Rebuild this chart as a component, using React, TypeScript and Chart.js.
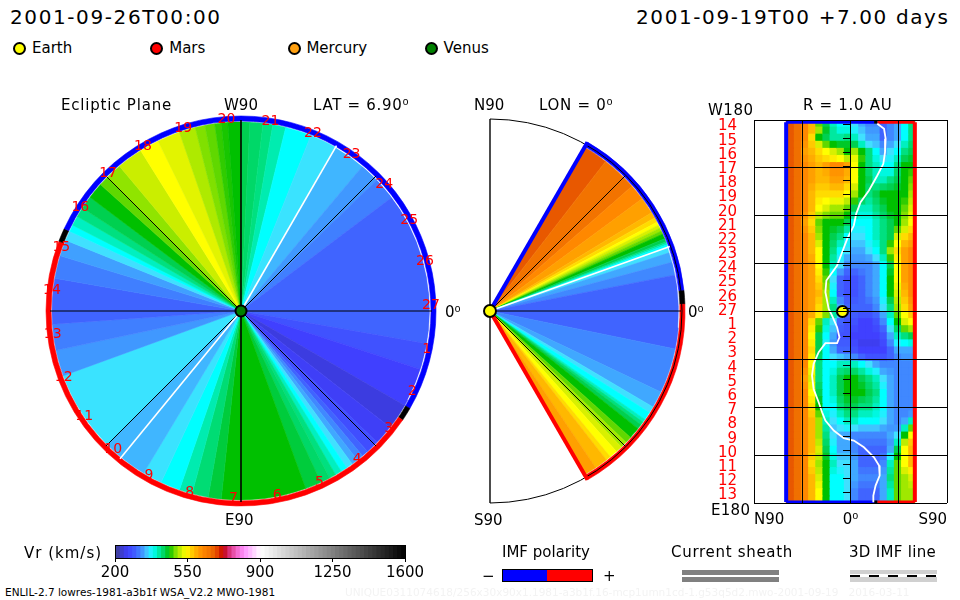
import React, { useEffect, useRef } from "react";
import { Chart, registerables } from "chart.js";

Chart.register(...registerables);

const FONT = '"DejaVu Sans", sans-serif';

// Colour table of the Vr scale: [km/s, colour]
const scaleSpeeds = [200, 240, 260, 300, 320, 340, 360, 380, 400, 420, 440, 460, 480, 500, 520, 540, 560, 580, 600, 620, 660, 680, 700, 720, 740, 780, 820, 860, 900, 1600];
const scaleColors = ["#404090", "#3c3ce0", "#4040ff", "#4064ff", "#4088ff", "#40a8ff", "#40e0ff", "#00ffff", "#00f0c0", "#00e080", "#00d050", "#00c000", "#60d800", "#a0e800", "#d8f000", "#ffff00", "#ffdc00", "#ffb800", "#ffa000", "#ff8800", "#f07000", "#e85800", "#e03000", "#c00000", "#d02060", "#f060c0", "#ff90ff", "#ffc8ff", "#ffffff", "#000000"];
const colorbarTicks = [200, 550, 900, 1250, 1600];

// Ecliptic plane: sector edges, clockwise from W90 (deg), and Vr in each sector
const eclipticEdges = [0, 2.7, 6.7, 9.7, 13.7, 21.7, 30, 40, 46, 53, 100, 108, 120, 128, 134, 138, 140, 142, 144, 146, 148, 150, 152, 155, 160, 186, 190, 195, 199, 205, 211, 225, 250, 258, 266, 280, 287, 292, 295, 297, 300, 303, 307, 312, 315, 320, 328, 334, 341, 346, 349, 352, 354, 356, 360];
const eclipticVr = [440, 430, 420, 405, 380, 362, 345, 330, 315, 300, 280, 260, 240, 255, 275, 300, 320, 340, 360, 380, 400, 420, 430, 445, 460, 445, 425, 405, 380, 362, 345, 362, 330, 315, 300, 315, 335, 360, 380, 400, 420, 440, 460, 480, 495, 515, 540, 525, 505, 490, 480, 470, 465, 460];
const eclipticPolaritySpans = [120, 4, 167, 4, 65];
const eclipticPolarity = ["minus", "zero", "plus", "zero", "minus"];
const eclipticSheathSpans = [30, 88, 242];
const eclipticGridDeg = [0, 45, 90, 135, 180, 225, 270, 315];
const eclipticSheathDeg = [30, 219.3];
const carringtonDays = [14, 15, 16, 17, 18, 19, 20, 21, 22, 23, 24, 25, 26, 27, 1, 2, 3, 4, 5, 6, 7, 8, 9, 10, 11, 12, 13];

// Meridional plane: sector edges, clockwise from N90 (deg), and Vr (null = outside the model)
const meridianEdges = [0, 30, 37.7, 48.7, 53.6, 58.7, 60.5, 62, 63, 64, 65, 66, 67.5, 68.5, 69, 69.5, 70.3, 72, 75, 79, 101.6, 115.4, 120.5, 122.5, 125, 126, 127, 128.5, 132, 134, 136, 138, 140.5, 142, 146, 150, 360];
const meridianVr = [null, 680, 655, 620, 600, 580, 560, 540, 520, 500, 480, 460, 440, 420, 400, 380, 360, 340, 320, 300, 320, 340, 360, 380, 400, 420, 440, 460, 480, 500, 520, 540, 560, 580, 600, null];
const meridianPolaritySpans = [30, 54, 4, 62, 210];
const meridianPolarity = ["none", "minus", "zero", "plus", "none"];
const meridianSheathSpans = [70, 25, 265];
const meridianGridDeg = [45, 90, 135];
const meridianSheathDeg = [70.3];

// R = 1 AU map: colatitude column edges (deg) and Vr, two rows per Carrington day, W180 at the top
const colatEdges = [30, 36.67, 43.33, 50, 56.67, 63.33, 70, 76.67, 83.33, 90, 96.67, 103.33, 110, 116.67, 123.33, 130, 136.67, 143.33, 150];
const vrAt1AU = [
  [680, 660, 620, 580, 480, 440, 400, 380, 380, 360, 340, 320, 320, 300, 320, 340, 380, 420],
  [680, 660, 620, 580, 500, 450, 410, 390, 390, 370, 350, 330, 330, 300, 320, 340, 380, 420],
  [680, 660, 620, 560, 460, 440, 410, 410, 420, 400, 360, 340, 340, 300, 320, 340, 380, 420],
  [680, 660, 610, 570, 520, 480, 460, 450, 450, 440, 400, 360, 350, 320, 340, 360, 400, 430],
  [680, 660, 600, 580, 560, 540, 520, 500, 460, 500, 460, 420, 380, 340, 360, 380, 420, 440],
  [680, 660, 610, 590, 570, 560, 550, 540, 510, 530, 470, 420, 390, 360, 370, 400, 440, 450],
  [680, 660, 620, 600, 580, 600, 620, 620, 600, 540, 460, 420, 400, 380, 380, 420, 460, 460],
  [680, 660, 620, 600, 580, 590, 610, 610, 590, 540, 460, 430, 400, 390, 390, 430, 460, 470],
  [680, 660, 620, 600, 580, 580, 600, 600, 580, 540, 460, 440, 400, 400, 420, 440, 460, 480],
  [680, 660, 620, 590, 570, 570, 580, 580, 560, 520, 460, 430, 420, 430, 440, 450, 460, 490],
  [680, 660, 620, 580, 560, 560, 560, 560, 540, 500, 460, 420, 440, 460, 460, 460, 460, 500],
  [680, 660, 620, 580, 550, 540, 530, 530, 510, 470, 430, 410, 430, 450, 460, 460, 470, 510],
  [680, 660, 620, 580, 540, 520, 500, 500, 480, 440, 400, 400, 420, 440, 460, 460, 480, 520],
  [680, 660, 610, 570, 510, 490, 480, 480, 460, 410, 390, 390, 410, 430, 450, 460, 490, 530],
  [680, 660, 600, 560, 480, 460, 460, 460, 440, 380, 380, 380, 400, 420, 440, 460, 500, 540],
  [680, 660, 610, 570, 490, 460, 450, 440, 410, 370, 370, 380, 400, 420, 440, 480, 520, 560],
  [680, 660, 620, 580, 500, 460, 440, 420, 380, 360, 360, 380, 400, 420, 440, 520, 560, 580],
  [680, 660, 620, 580, 520, 460, 430, 400, 370, 350, 350, 370, 390, 420, 470, 540, 580, 600],
  [680, 660, 620, 580, 540, 460, 420, 380, 360, 340, 340, 360, 380, 420, 500, 560, 600, 620],
  [680, 660, 620, 590, 540, 460, 410, 370, 340, 330, 330, 340, 360, 400, 470, 550, 600, 620],
  [680, 660, 620, 600, 540, 460, 400, 360, 320, 320, 320, 320, 340, 380, 440, 540, 600, 620],
  [680, 660, 620, 600, 550, 470, 380, 330, 300, 300, 310, 320, 340, 380, 450, 540, 600, 620],
  [680, 660, 620, 600, 560, 480, 360, 300, 280, 280, 300, 320, 340, 380, 460, 540, 600, 620],
  [680, 660, 620, 600, 570, 490, 370, 300, 280, 280, 300, 320, 340, 380, 460, 530, 590, 620],
  [680, 660, 620, 600, 580, 500, 380, 300, 280, 280, 300, 320, 340, 380, 460, 520, 580, 620],
  [680, 660, 620, 600, 570, 500, 400, 320, 290, 290, 300, 310, 330, 370, 440, 510, 570, 610],
  [680, 660, 620, 600, 560, 500, 420, 340, 300, 300, 300, 300, 320, 360, 420, 500, 560, 600],
  [680, 660, 620, 590, 550, 490, 410, 350, 290, 290, 280, 280, 300, 340, 400, 480, 540, 570],
  [680, 660, 620, 560, 480, 400, 360, 300, 280, 280, 260, 260, 280, 320, 380, 460, 520, 540],
  [680, 660, 620, 550, 470, 390, 350, 290, 280, 270, 260, 260, 270, 300, 360, 430, 480, 500],
  [680, 660, 620, 540, 440, 380, 340, 280, 280, 260, 260, 260, 260, 280, 340, 400, 420, 440],
  [680, 660, 620, 550, 440, 370, 330, 290, 290, 270, 250, 250, 250, 270, 320, 370, 380, 390],
  [680, 660, 620, 560, 440, 380, 340, 300, 300, 280, 260, 260, 260, 260, 300, 340, 340, 340],
  [680, 660, 620, 550, 430, 380, 360, 350, 340, 320, 300, 280, 280, 280, 300, 320, 330, 330],
  [680, 660, 620, 540, 420, 380, 380, 400, 400, 400, 380, 360, 340, 320, 320, 320, 320, 320],
  [680, 660, 610, 530, 420, 380, 390, 420, 430, 430, 410, 390, 370, 340, 330, 320, 320, 320],
  [680, 660, 600, 520, 420, 380, 400, 440, 460, 460, 440, 420, 400, 360, 340, 320, 320, 320],
  [680, 660, 610, 530, 430, 380, 400, 440, 460, 460, 450, 430, 410, 370, 340, 320, 320, 320],
  [680, 660, 620, 540, 440, 380, 400, 440, 460, 460, 460, 440, 420, 380, 340, 320, 320, 320],
  [680, 660, 620, 550, 450, 380, 390, 430, 450, 450, 440, 430, 410, 380, 340, 320, 320, 320],
  [680, 660, 620, 560, 460, 380, 380, 420, 440, 440, 420, 420, 400, 380, 340, 320, 320, 320],
  [680, 660, 620, 570, 480, 390, 370, 400, 420, 420, 400, 400, 390, 370, 340, 320, 320, 330],
  [680, 660, 620, 580, 500, 400, 360, 380, 400, 400, 380, 380, 380, 360, 340, 320, 340, 400],
  [680, 660, 620, 580, 500, 410, 350, 360, 370, 360, 350, 350, 350, 340, 330, 330, 400, 480],
  [680, 660, 620, 580, 500, 420, 360, 340, 340, 320, 320, 320, 320, 320, 340, 360, 460, 540],
  [680, 660, 620, 580, 510, 430, 370, 340, 340, 320, 310, 310, 310, 310, 330, 400, 510, 570],
  [680, 660, 620, 580, 520, 440, 380, 340, 340, 320, 300, 300, 300, 300, 340, 440, 540, 580],
  [680, 660, 620, 570, 510, 450, 390, 350, 350, 330, 300, 300, 300, 310, 370, 460, 540, 580],
  [680, 660, 620, 560, 500, 460, 400, 360, 360, 340, 300, 300, 300, 320, 400, 480, 540, 580],
  [680, 660, 620, 570, 510, 460, 390, 370, 360, 340, 310, 310, 310, 330, 410, 480, 520, 550],
  [680, 660, 620, 580, 520, 460, 380, 380, 360, 340, 320, 320, 320, 340, 420, 480, 500, 520],
  [680, 660, 620, 580, 530, 460, 380, 380, 360, 330, 310, 310, 310, 340, 410, 480, 500, 510],
  [680, 660, 620, 580, 540, 460, 380, 380, 360, 320, 300, 300, 300, 340, 400, 480, 500, 500],
  [680, 660, 620, 580, 540, 460, 380, 380, 360, 320, 300, 300, 300, 340, 400, 480, 500, 500],
];

// Current sheath on the 1 AU map
const sheathColat = [115, 121.3, 122.8, 122.2, 120.6, 115, 107.2, 99.4, 95.3, 93.1, 86.9, 82.2, 77.5, 67.5, 66.6, 69.7, 72.8, 77.5, 79.7, 77.5, 66.6, 60.3, 55.6, 54.1, 55.6, 60.3, 63.5, 66.6, 74.4, 83.7, 93.1, 102.5, 111.9, 116.6, 117.2, 113.4, 111.3, 111.3];
const sheathLon = [176.4, 171.7, 162.3, 149.7, 138.8, 127.8, 113.7, 102.7, 91.8, 80.8, 68.3, 55.7, 43.2, 29.1, 18.1, 2.5, -3.8, -14.8, -24.2, -29.8, -29.8, -38.3, -49.2, -60.2, -72.8, -85.3, -94.7, -102.5, -111.9, -119.1, -121.3, -127.6, -137, -144.8, -154.2, -163.6, -173, -179.3];
const earthColat = 82.5;
const earthLon = 0;
const mapBoundaryColat = [30, 112, 115, 150];

const planets = ["Earth", "Mars", "Mercury", "Venus"];
const planetColors = ["#ffff00", "#ff0000", "#ffa010", "#008000"];

const polarityColor: Record<string, string> = { minus: "#0000ff", plus: "#ff0000", zero: "#000000", none: "rgba(0,0,0,0)" };

function hexRgb(h: string) {
  return [1, 3, 5].map((i) => parseInt(h.slice(i, i + 2), 16));
}
function vrColor(v: number | null) {
  if (v == null) return "rgba(0,0,0,0)";
  let i = 0;
  while (i < scaleSpeeds.length - 2 && v > scaleSpeeds[i + 1]) i++;
  const t = Math.max(0, Math.min(1, (v - scaleSpeeds[i]) / (scaleSpeeds[i + 1] - scaleSpeeds[i])));
  const a = hexRgb(scaleColors[i]);
  const b = hexRgb(scaleColors[i + 1]);
  const c = a.map((x, k) => Math.round(x + (b[k] - x) * t));
  return `rgb(${c[0]},${c[1]},${c[2]})`;
}
const spans = (edges: number[]) => edges.slice(1).map((e, i) => e - edges[i]);

function ringChart(canvas: HTMLCanvasElement, cfg: any) {
  const sliceStyle = (colors: string[]) => ({
    backgroundColor: colors,
    borderColor: colors,
    borderWidth: 0.6,
    hoverOffset: 0,
  });
  const overlay = {
    id: "radialOverlay",
    afterDatasetsDraw(chart: any) {
      const arc = chart.getDatasetMeta(0).data[0];
      const cx = arc.x;
      const cy = arc.y;
      const ctx = chart.ctx;
      const pt = (deg: number, r: number) => {
        const a = ((deg - 90) * Math.PI) / 180;
        return [cx + r * Math.cos(a), cy + r * Math.sin(a)];
      };
      const spoke = (deg: number, r: number, color: string, width: number) => {
        const [x, y] = pt(deg, r);
        ctx.beginPath();
        ctx.moveTo(cx, cy);
        ctx.lineTo(x, y);
        ctx.strokeStyle = color;
        ctx.lineWidth = width;
        ctx.stroke();
      };
      ctx.save();
      cfg.gridDeg.forEach((d: number) => spoke(d, cfg.fillR, "#000", d % 180 === 0 ? 1.6 : 1));
      cfg.sheathDeg.forEach((d: number) => spoke(d, cfg.fillR, "#fff", 1.6));
      if (cfg.wedge) {
        ctx.beginPath();
        ctx.arc(cx, cy, 192, -Math.PI / 2, Math.PI / 2);
        ctx.strokeStyle = "#000";
        ctx.lineWidth = 1;
        ctx.stroke();
        ctx.beginPath();
        ctx.moveTo(cx, cy - 192);
        ctx.lineTo(cx, cy + 192);
        ctx.lineWidth = 1.4;
        ctx.stroke();
        spoke(cfg.wedge[0], 195, "#0000ff", 4);
        spoke(cfg.wedge[1], 195, "#ff0000", 4);
      }
      if (cfg.days) {
        ctx.font = `14px ${FONT}`;
        ctx.fillStyle = "#ff0000";
        ctx.textAlign = "center";
        ctx.textBaseline = "middle";
        cfg.days.forEach((d: number) => {
          const [x, y] = pt(89 + 13.33 * d, 190);
          ctx.fillText(String(d), x, y - 2);
        });
      }
      ctx.beginPath();
      ctx.arc(cx, cy, cfg.marker.r, 0, Math.PI * 2);
      ctx.fillStyle = cfg.marker.color;
      ctx.fill();
      ctx.strokeStyle = "#000";
      ctx.lineWidth = 2;
      ctx.stroke();
      ctx.restore();
    },
  };
  return new Chart(canvas, {
    type: "doughnut",
    data: {
      labels: cfg.spans.map((_: number, i: number) => `sector ${i + 1}`),
      datasets: [
        { data: cfg.polaritySpans, weight: 5, ...sliceStyle(cfg.polarityColors) },
        {
          data: cfg.sheathSpans,
          weight: 1,
          ...sliceStyle(["rgba(0,0,0,0)", "#ffffff", "rgba(0,0,0,0)"]),
        },
        { data: cfg.spans, weight: 189, ...sliceStyle(cfg.colors) },
      ],
    },
    options: {
      responsive: false,
      animation: false,
      events: [],
      cutout: 0,
      radius: 195,
      plugins: { legend: { display: false }, tooltip: { enabled: false } },
    },
    plugins: [overlay],
  } as any);
}

function mapChart(canvas: HTMLCanvasElement) {
  const rowLabels = carringtonDays.flatMap((d) => [String(d), ""]);
  const columns = colatEdges.slice(1).map((right, j) => ({
    type: "bar",
    label: `column ${j + 1}`,
    xAxisID: "x",
    yAxisID: "y",
    grouped: false,
    barPercentage: 1,
    categoryPercentage: 1,
    inflateAmount: 0.5,
    borderWidth: 0,
    data: vrAt1AU.map(() => [colatEdges[j], right]),
    backgroundColor: vrAt1AU.map((row) => vrColor(row[j])),
  }));
  const line = (label: string, color: string, width: number, pts: { x: number; y: number }[]) => ({
    type: "line",
    label,
    indexAxis: "x",
    xAxisID: "x",
    yAxisID: "y2",
    data: pts,
    borderColor: color,
    borderWidth: width,
    pointRadius: 0,
    tension: 0,
    clip: false,
  });
  const [west, mid1, mid2, east] = mapBoundaryColat;
  const datasets: any[] = [
    {
      type: "line",
      label: "Earth",
      indexAxis: "x",
      xAxisID: "x",
      yAxisID: "y2",
      data: [{ x: earthColat, y: earthLon }],
      pointRadius: 5.5,
      pointBackgroundColor: "#ffff00",
      pointBorderColor: "#000",
      pointBorderWidth: 2,
      showLine: false,
    },
    line("Current sheath", "#ffffff", 1.8, sheathColat.map((x, i) => ({ x, y: sheathLon[i] }))),
    line("N edge", "#0000ff", 4, [{ x: west, y: 178 }, { x: west, y: -179 }]),
    line("S edge", "#ff0000", 4, [{ x: east, y: 178 }, { x: east, y: -179 }]),
    line("top minus", "#0000ff", 3, [{ x: west, y: 178 }, { x: mid1, y: 178 }]),
    line("top zero", "#000000", 3, [{ x: mid1, y: 178 }, { x: mid2, y: 178 }]),
    line("top plus", "#ff0000", 3, [{ x: mid2, y: 178 }, { x: east, y: 178 }]),
    line("bottom minus", "#0000ff", 3, [{ x: west, y: -179 }, { x: mid1, y: -179 }]),
    line("bottom zero", "#000000", 3, [{ x: mid1, y: -179 }, { x: mid2, y: -179 }]),
    line("bottom plus", "#ff0000", 3, [{ x: mid2, y: -179 }, { x: east, y: -179 }]),
    ...columns,
  ];
  const noPad = (s: any) => {
    s.paddingLeft = 0;
    s.paddingRight = 0;
    s.paddingTop = 0;
    s.paddingBottom = 0;
  };
  const dayTicks = {
    id: "dayTicks",
    afterDatasetsDraw(chart: any) {
      const { ctx, scales } = chart;
      const x0 = scales.x.getPixelForValue(83);
      const x1 = scales.x.getPixelForValue(90);
      ctx.save();
      ctx.strokeStyle = "#000";
      ctx.lineWidth = 1;
      carringtonDays.forEach((_, i) => {
        const y = Math.round(scales.y.getPixelForValue(i * 2)) + 0.5;
        ctx.beginPath();
        ctx.moveTo(x0, y);
        ctx.lineTo(x1, y);
        ctx.stroke();
      });
      ctx.restore();
    },
  };
  const xNames: Record<number, string> = { 0: "N90", 90: "0\u2070", 180: "S90" };
  return new Chart(canvas, {
    type: "bar",
    data: { labels: rowLabels, datasets },
    options: {
      responsive: false,
      animation: false,
      events: [],
      indexAxis: "y",
      layout: { padding: { top: 25, right: 13, left: 0, bottom: 0 } },
      plugins: { legend: { display: false }, tooltip: { enabled: false } },
      scales: {
        x: {
          type: "linear",
          min: 0,
          max: 180,
          position: "bottom",
          afterFit: (s: any) => {
            s.height = 32;
            noPad(s);
          },
          grid: { color: "#000", lineWidth: 1, z: 1, drawTicks: false },
          border: { display: false },
          ticks: {
            stepSize: 45,
            padding: 8,
            align: "inner",
            maxRotation: 0,
            color: "#000",
            font: { family: FONT, size: 15 },
            callback: (v: any) => xNames[v] ?? "",
          },
        },
        y: {
          type: "category",
          position: "left",
          offset: true,
          afterFit: (s: any) => {
            s.width = 54;
            noPad(s);
          },
          grid: { display: false },
          border: { display: false },
          ticks: {
            autoSkip: false,
            padding: 9,
            labelOffset: 3,
            color: "#ff0000",
            font: { family: FONT, size: 15 },
          },
        },
        y2: {
          type: "linear",
          position: "right",
          min: -180,
          max: 180,
          offset: false,
          afterFit: (s: any) => {
            s.width = 0;
            noPad(s);
          },
          grid: { color: "#000", lineWidth: 1, z: 1, drawTicks: false, offset: false },
          border: { display: false },
          ticks: { display: false, stepSize: 45 },
        },
      },
    },
    plugins: [dayTicks],
  } as any);
}

function colorbarChart(canvas: HTMLCanvasElement) {
  const bands: number[] = [];
  for (let v = colorbarTicks[0]; v < colorbarTicks[colorbarTicks.length - 1]; v += 20) bands.push(v);
  const frame = {
    id: "frame",
    afterDatasetsDraw(chart: any) {
      const { ctx, chartArea: a } = chart;
      ctx.save();
      ctx.strokeStyle = "#000";
      ctx.lineWidth = 1;
      ctx.strokeRect(Math.round(a.left) + 0.5, Math.round(a.top) + 0.5, Math.round(a.width), Math.round(a.height));
      ctx.restore();
    },
  };
  return new Chart(canvas, {
    type: "bar",
    data: {
      labels: ["Vr"],
      datasets: bands.map((v) => ({
        label: String(v),
        data: [[v, v + 20]],
        backgroundColor: vrColor(v + 10),
        grouped: false,
        barPercentage: 1,
        categoryPercentage: 1,
        inflateAmount: 0.5,
        borderWidth: 0,
      })),
    } as any,
    options: {
      responsive: false,
      animation: false,
      events: [],
      indexAxis: "y",
      layout: { padding: { left: 30, right: 30, top: 10, bottom: 0 } },
      plugins: { legend: { display: false }, tooltip: { enabled: false } },
      scales: {
        x: {
          type: "linear",
          min: colorbarTicks[0],
          max: colorbarTicks[colorbarTicks.length - 1],
          afterFit: (s: any) => {
            s.height = 27;
            s.paddingLeft = 0;
            s.paddingRight = 0;
          },
          afterBuildTicks: (s: any) => {
            s.ticks = colorbarTicks.map((value) => ({ value }));
          },
          grid: { drawOnChartArea: false, color: "#000", tickLength: 4 },
          border: { color: "#000" },
          ticks: {
            padding: 2,
            maxRotation: 0,
            color: "#000",
            font: { family: FONT, size: 15 },
            callback: (v: any) => String(v),
          },
        },
        y: { display: false },
      },
    },
    plugins: [frame],
  } as any);
}

const labelStyle = (x: number, cy: number, size: number, ls: number, color = "#000"): React.CSSProperties => ({
  position: "absolute",
  left: x,
  top: cy,
  transform: "translateY(-50%)",
  font: `${size}px ${FONT}`,
  letterSpacing: ls,
  color,
  whiteSpace: "pre",
  lineHeight: 1,
});

const T = ({ x, y, s = 15, ls = 0, c = "#000", children }: any) => <div style={labelStyle(x, y, s, ls, c)}>{children}</div>;
const box = (left: number, top: number, width: number, height: number, background: string, extra: any = {}): React.CSSProperties => ({
  position: "absolute",
  left,
  top,
  width,
  height,
  background,
  boxSizing: "border-box",
  ...extra,
});

export default function App() {
  const a = useRef<HTMLCanvasElement>(null);
  const b = useRef<HTMLCanvasElement>(null);
  const c = useRef<HTMLCanvasElement>(null);
  const d = useRef<HTMLCanvasElement>(null);
  useEffect(() => {
    const charts = [
      ringChart(a.current!, {
        spans: spans(eclipticEdges),
        colors: eclipticVr.map(vrColor),
        polaritySpans: eclipticPolaritySpans,
        polarityColors: eclipticPolarity.map((p) => polarityColor[p]),
        sheathSpans: eclipticSheathSpans,
        gridDeg: eclipticGridDeg,
        sheathDeg: eclipticSheathDeg,
        fillR: 191,
        days: carringtonDays,
        marker: { r: 5.5, color: "#008000" },
      }),
      ringChart(b.current!, {
        spans: spans(meridianEdges),
        colors: meridianVr.map(vrColor),
        polaritySpans: meridianPolaritySpans,
        polarityColors: meridianPolarity.map((p) => polarityColor[p]),
        sheathSpans: meridianSheathSpans,
        gridDeg: meridianGridDeg,
        sheathDeg: meridianSheathDeg,
        fillR: 191,
        wedge: [30, 150],
        marker: { r: 6, color: "#ffff00" },
      }),
      mapChart(c.current!),
      colorbarChart(d.current!),
    ];
    return () => charts.forEach((ch) => ch.destroy());
  }, []);
  const canvasStyle = (left: number, top: number): React.CSSProperties => ({ position: "absolute", left, top });
  return (
    <div style={{ position: "absolute", left: 0, top: 0, width: 960, height: 600, background: "#fff", overflow: "hidden" }}>
      <canvas ref={a} width={460} height={460} style={canvasStyle(11, 81)} />
      <canvas ref={b} width={460} height={460} style={canvasStyle(260, 81)} />
      <canvas ref={c} width={260} height={440} style={canvasStyle(700, 95)} />
      <canvas ref={d} width={350} height={50} style={canvasStyle(85, 535)} />

      <T x={10} y={17} s={20} ls={1.6}>2001-09-26T00:00</T>
      <T x={636} y={17} s={20} ls={1.6}>2001-09-19T00 +7.00 days</T>

      {planets.map((p, i) => (
        <React.Fragment key={p}>
          <div style={box(13 + i * 137.4, 42, 13, 13, planetColors[i], { border: "2px solid #000", borderRadius: "50%" })} />
          <T x={32 + i * 137.2} y={48}>{p}</T>
        </React.Fragment>
      ))}

      <T x={61} y={105} ls={0.8}>Ecliptic Plane</T>
      <T x={224} y={105}>W90</T>
      <T x={313} y={105} ls={0.7}>{"LAT = 6.90\u2070"}</T>
      <T x={225} y={520}>E90</T>
      <T x={445} y={312}>{"0\u2070"}</T>

      <T x={474} y={105}>N90</T>
      <T x={539} y={105} ls={0.7}>{"LON = 0\u2070"}</T>
      <T x={474} y={520}>S90</T>
      <T x={688} y={312}>{"0\u2070"}</T>

      <T x={803} y={105} ls={0.7}>R = 1.0 AU</T>
      <T x={708} y={110} ls={0.5}>W180</T>
      <T x={711} y={510} ls={0.3}>E180</T>

      <T x={24} y={553} ls={1}>Vr (km/s)</T>

      <T x={502} y={552}>IMF polarity</T>
      <T x={482} y={576}>{"\u2212"}</T>
      <T x={603} y={576}>+</T>
      <div style={box(502, 569, 45, 13, "#0000ff", { border: "1px solid #000", borderRight: "none" })} />
      <div style={box(547, 569, 46, 13, "#ff0000", { border: "1px solid #000", borderLeft: "none" })} />

      <T x={671} y={552} ls={0.7}>Current sheath</T>
      <div style={box(682, 570, 97, 5, "#808080")} />
      <div style={box(682, 577, 97, 5, "#808080")} />

      <T x={849} y={552} ls={0.3}>3D IMF line</T>
      <div style={box(850, 570, 87, 12, "#d0d0d0")} />
      <div style={box(850, 574, 87, 3, "#ffffff")} />
      <div
        style={box(850, 575, 87, 2, "repeating-linear-gradient(90deg, #000 0 10px, transparent 10px 19px)")}
      />

      <T x={5} y={592} s={10.5}>ENLIL-2.7 lowres-1981-a3b1f WSA_V2.2 MWO-1981</T>
      <T x={345} y={592} s={10.5} c="#f3f3f3">
        UNIQUE0311074618/256x30x90x1.1981-a3b1f.16-mcp1umn1cd-1.g53q5d2.mwo-2001-09-19   2016-03-11
      </T>
    </div>
  );
}
